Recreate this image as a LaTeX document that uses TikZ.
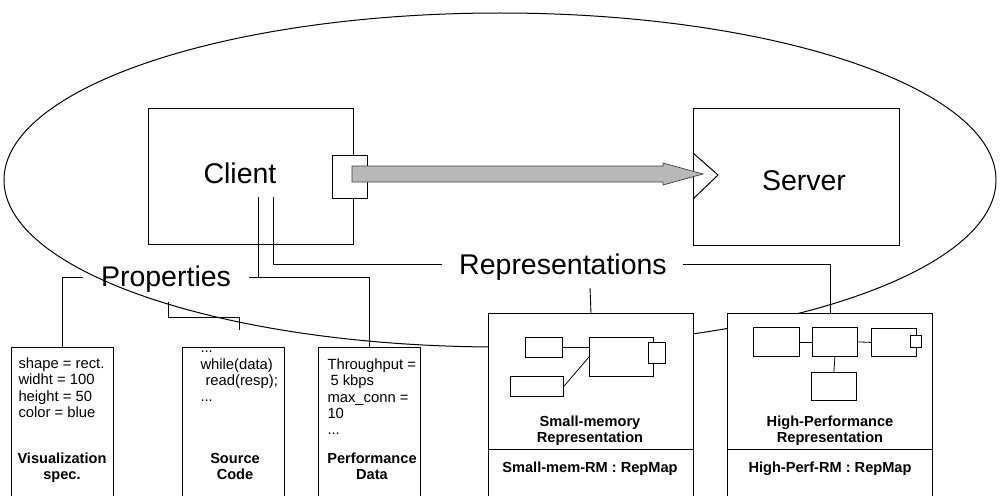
\documentclass[tikz,border=0pt]{standalone}
\usepackage{fontspec}
\setmainfont{Liberation Sans}
\begin{document}
\begin{tikzpicture}[x=1pt,y=-1pt,line width=1pt,
  box/.style={draw,fill=white,inner sep=0pt,anchor=north west},
  ibox/.style={draw,fill=white,inner sep=0pt,anchor=north west,line width=0.8pt},
  big/.style={font=\fontsize{28.5}{32}\selectfont,inner sep=0pt,anchor=base},
  small/.style={font=\fontsize{14.8}{16.3}\selectfont,inner sep=0pt,align=left,anchor=north west},
  lbl/.style={font=\bfseries\fontsize{14.6}{16}\selectfont,inner sep=0pt,align=center},
  conn/.style={line width=0.9pt}]
\useasboundingbox (0,0) rectangle (1000,495);
\clip (0,0) rectangle (1000,495);
% surrounding ellipse
\draw (500,180) ellipse [x radius=496pt, y radius=167pt];
% client and server
\node[box,minimum width=205pt,minimum height=136pt] (client) at (148,108) {};
\node[big] (clientlbl) at (240,183) {Client};
\node[box,minimum width=35pt,minimum height=43pt] (port) at (332,155) {};
\node[box,minimum width=206pt,minimum height=137pt] (server) at (693,108) {};
\node[big] (serverlbl) at (804,190) {Server};
\coordinate (tp1) at (693,153);
\coordinate (tp2) at (718,175);
\coordinate (tp3) at (693,199);
\draw (tp1) -- (tp2) -- (tp3);
% thick arrow
\coordinate (a0) at (352,166);
\coordinate (tip) at (703,174);
\draw[draw=black!75,fill=black!28,line width=0.7pt]
  (a0) -- (663,166) -- (663,163) -- (tip) -- (663,185) -- (663,182) -- (352,182) -- cycle;
% group labels
\node[big] (props) at (166,286) {Properties};
\node[big] (reps) at (563,274) {Representations};
% bottom boxes
\node[box,minimum width=102pt,minimum height=153pt] (vis) at (11,347) {};
\node[box,minimum width=102pt,minimum height=153pt] (src) at (182,347) {};
\node[box,minimum width=102pt,minimum height=153pt] (perf) at (318,347) {};
\node[box,minimum width=205pt,minimum height=187pt] (sm) at (488,313) {};
\node[box,minimum width=205pt,minimum height=187pt] (hp) at (727,313) {};
\draw[line width=0.8pt] (488,449) -- (693,449);
\draw[line width=0.8pt] (727,449) -- (932,449);
% texts in bottom boxes
\node[small] (vistxt) at (18,356.6) {\strut shape = rect.\\widht = 100\\height = 50\\color = blue};
\node[lbl,anchor=north] (vislbl) at (62,451.8) {\strut Visualization\\spec.};
\node[small] (srctxt) at (200,341) {\strut ...\\while(data)\\\hspace*{5pt}read(resp);\\...};
\node[lbl,anchor=north] (srclbl) at (235,451.8) {\strut Source\\Code};
\node[small] (perftxt) at (327,357.6) {\strut Throughput =\\\hspace*{3pt}5 kbps\\max\_conn =\\10\\...};
\node[lbl,anchor=north] (perflbl) at (372,451.8) {\strut Performance\\Data};
\node[lbl,anchor=north,font=\bfseries\fontsize{14.6}{14}\selectfont] (smlbl) at (590,415.2) {\strut Small-memory\\Representation};
\node[lbl,anchor=base] (smrm) at (590,472) {Small-mem-RM : RepMap};
\node[lbl,anchor=north,font=\bfseries\fontsize{14.6}{14}\selectfont] (hplbl) at (830,415.2) {\strut High-Performance\\Representation};
\node[lbl,anchor=base] (hprm) at (830,472) {High-Perf-RM : RepMap};
% small-memory internals
\node[ibox,minimum width=37pt,minimum height=20pt] (sa) at (525,337) {};
\node[ibox,minimum width=64pt,minimum height=39pt] (sb) at (589,337) {};
\node[ibox,minimum width=17pt,minimum height=21pt] (sbp) at (648,342) {};
\node[ibox,minimum width=53pt,minimum height=20pt] (sc) at (510,376) {};
\draw[line width=0.8pt] (sa.east) -- (sa.east -| sb.west);
\draw[line width=0.8pt] (sc.east) -- (sb.west);
% high-performance internals
\node[ibox,minimum width=46pt,minimum height=29pt] (h1) at (753,327) {};
\node[ibox,minimum width=45pt,minimum height=29pt] (h2) at (812,327) {};
\node[ibox,minimum width=45pt,minimum height=28pt] (h3) at (871,328) {};
\node[ibox,minimum width=11pt,minimum height=12pt] (h3p) at (910,335) {};
\node[ibox,minimum width=45pt,minimum height=28pt] (h4) at (811,372) {};
\draw[line width=0.8pt] (h1.east) -- (h2.west);
\draw[line width=0.8pt] (h2.east) -- (h3.west);
\draw[line width=0.8pt] (h2.south) -- (h4.north);
% connectors
\coordinate (c1) at (258,197);
\coordinate (c2) at (273,197);
\coordinate (pr) at (249,277);
\coordinate (pl) at (83,277);
\coordinate (pb) at (168,302);
\coordinate (pbe) at (239,330);
\coordinate (rl) at (442,264);
\coordinate (rr) at (683,264);
\coordinate (rb) at (590,288);
\draw[conn] (c1) -- (c1 |- pr);
\draw[conn] (pr) -| (perf.north);
\draw[conn] (c2) |- (rl);
\draw[conn] (rr) -| (hp.north);
\draw[conn] (rb) -- (sm.north);
\draw[conn] (pl) -| (vis.north);
\draw[conn] (pb) |- (pbe |- 0,317) -- (pbe);
\end{tikzpicture}
\end{document}
